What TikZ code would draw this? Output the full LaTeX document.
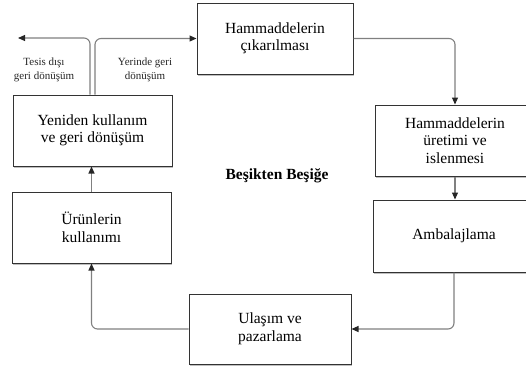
\documentclass[tikz,border=0pt]{standalone}
\usepackage{fontspec}
\setmainfont{Liberation Serif}
\usetikzlibrary{arrows.meta,positioning,calc,shadows}

\begin{document}
\begin{tikzpicture}[x=1pt, y=-1pt, >={Triangle[length=7pt,width=6pt,color=black!85]}]
        \tikzset{
            stage/.style={draw=black!80, fill=white, rectangle, line width=1pt, minimum height=71pt, minimum width=159pt, align=center, inner sep=2pt, font=\fontsize{15.5}{17.5}\selectfont, drop shadow={shadow xshift=1pt, shadow yshift=-1.5pt, opacity=0.25, fill=black}},
            note/.style={font=\fontsize{11}{14}\selectfont, align=center, text=black!85},
            title/.style={font=\fontsize{15.5}{18}\selectfont\bfseries},
            line/.style={draw=black!50, ->, line width=1.1pt, rounded corners=6pt}
        }
        \clip (0,0) rectangle (526,372);
        
        % Production chain
        \node [stage, minimum width=156pt] (extract) at (275,38.5) {Hammaddelerin\\çıkarılması};
        \node [stage, minimum width=160pt] (process) at (455,140.5) {Hammaddelerin\\üretimi ve\\islenmesi};
        \node [stage, minimum width=162pt, minimum height=72pt] (pack) at (454,236) {Ambalajlama};
        \node [stage, minimum width=162pt, minimum height=70pt] (market) at (270,329) {Ulaşım ve\\pazarlama};
        
        % Use and return
        \node [stage] (usage) at (91.5,227.5) {Ürünlerin\\kullanımı};
        \node [stage] (reuse) at (92.5,130.5) {Yeniden kullanım\\ve geri dönüşüm};
        
        % Centre title and labels
        \node [title] (cycle) at (277,176) {Beşikten Beşiğe};
        \node [note] (offsite) at (44,70) {Tesis dışı\\geri dönüşüm};
        \node [note] (onsite) at (145,69.5) {Yerinde geri\\dönüşüm};
        \coordinate (outside) at (18,38);
        
        % Connections
        \draw [line] (extract.east) -| (process.north);
        \draw [line] (process.south) -- (process.south |- pack.north);
        \draw [line] (pack.south) |- (market.east);
        \draw [line] (market.west) -| (usage.south);
        \draw [line] (usage.north) -- (usage.north |- reuse.south);
        
        % Recycling branches
        \draw [line] ($(reuse.north)+(-2.5,0)$) |- (outside);
        \draw [line] ($(reuse.north)+(2.5,0)$) |- (extract.west);
        
    \end{tikzpicture}
\end{document}
